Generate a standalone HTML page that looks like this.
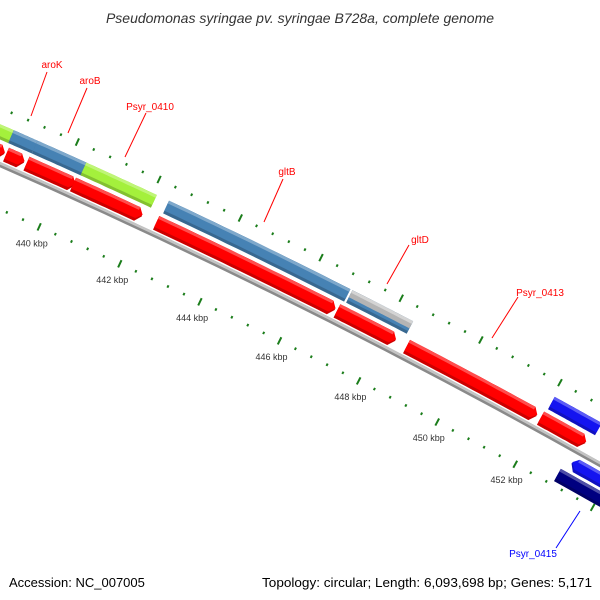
<!DOCTYPE html>
<html><head><meta charset="utf-8"><style>
body{margin:0;background:#fff;overflow:hidden}
svg{display:block;font-family:"Liberation Sans","DejaVu Sans",sans-serif;overflow:hidden}
</style></head><body>
<svg id="map" width="600" height="600" viewBox="0 0 600 600" xmlns="http://www.w3.org/2000/svg">
<rect width="600" height="600" fill="#fff"/>
<text x="300" y="23" text-anchor="middle" font-size="14" font-style="italic" fill="#333">Pseudomonas syringae pv. syringae B728a, complete genome</text>
<g id="ticks"></g><g id="backbone"></g><g id="features"></g><g id="labels"></g>
<text x="9" y="587" font-size="13" fill="#000">Accession: NC_007005</text>
<text x="262" y="587" textLength="330" lengthAdjust="spacingAndGlyphs" font-size="13" fill="#000">Topology: circular; Length: 6,093,698 bp; Genes: 5,171</text>
</svg>
<script>
// data (kbp)
const featStart = [436.0, 438.66, 439.16, 440.3, 442.35, 446.85, 448.6, 452.0, 436.0, 438.6, 439.18, 440.37, 442.4, 446.95, 452.05, 453.1, 452.95];
const featEnd   = [438.62,439.1, 440.35, 442.0, 446.8, 448.32, 451.9, 453.15, 438.6, 439.18,440.4, 442.1, 446.9, 448.47, 453.25, 457.0, 457.0];
const featRow   = ['gene','gene','gene','gene','gene','gene','gene','gene','cog','cog','cog','cog','cog','cog2','bcog','rgene','rcog'];
const featColor = ['#f00','#f00','#f00','#f00','#f00','#f00','#f00','#f00','#a4f03c','#4682b4','#4682b4','#a4f03c','#4682b4','#4682b4','#1414f0','#1414f0','#000080'];
const featDir   = [1,1,1,1,1,1,1,1,0,0,0,0,0,0,0,-1,0];
const tickLabels = ['440 kbp','442 kbp','444 kbp','446 kbp','448 kbp','450 kbp','452 kbp'];
const tickLabelKbp = [440,442,444,446,448,450,452];
const geneLabels = ['aroK','aroB','Psyr_0410','gltB','gltD','Psyr_0413','Psyr_0415'];
const geneLabelColor = ['#f00','#f00','#f00','#f00','#f00','#f00','#00f'];

// geometry
const CX=-2718, CY=6353, R=6700, TH0=-63.5*Math.PI/180, DTH=0.0066;
function pt(k,dr){const t=TH0+(k-446)*DTH;return [CX+(R+dr)*Math.cos(t),CY+(R+dr)*Math.sin(t)];}
const rows={gene:[63,78],cog:[82,96],cog2:[82,96],bcog:[82,96],rgene:[39,53],rcog:[22,36]};
const NS='http://www.w3.org/2000/svg';
function mk(tag,attrs,parent){const e=document.createElementNS(NS,tag);for(const a in attrs)e.setAttribute(a,attrs[a]);parent.appendChild(e);return e;}
function band(k0,k1,r0,r1,dir){
  const n=20,pts=[],tip=0.12;let a=k0,b=k1;
  if(dir===1)b=k1-tip; if(dir===-1)a=k0+tip;
  for(let i=0;i<=n;i++)pts.push(pt(a+(b-a)*i/n,r1));
  if(dir===1)pts.push(pt(k1,(r0+r1)/2));
  for(let i=n;i>=0;i--)pts.push(pt(a+(b-a)*i/n,r0));
  if(dir===-1)pts.push(pt(k0,(r0+r1)/2));
  return 'M'+pts.map(p=>p[0].toFixed(1)+','+p[1].toFixed(1)).join('L')+'Z';
}
function shade(c,f){const h=c.replace('#','');let r,g,b;if(h.length===3){r=parseInt(h[0]+h[0],16);g=parseInt(h[1]+h[1],16);b=parseInt(h[2]+h[2],16);}else{r=parseInt(h.slice(0,2),16);g=parseInt(h.slice(2,4),16);b=parseInt(h.slice(4,6),16);}
  const m=v=>Math.max(0,Math.min(255,Math.round(f>0?v+(255-v)*f:v*(1+f))));return `rgb(${m(r)},${m(g)},${m(b)})`;}

// ticks
const tg=document.getElementById('ticks');
for(let i=0;i<=55;i++){const k=436+i*0.4;const major=Math.abs((k/2)-Math.round(k/2))<0.01;
  [18,111].forEach(base=>{const l=major?4:1.3;const p0=pt(k,base-l),p1=pt(k,base+l);
    const e=mk('line',{x1:p0[0],y1:p0[1],x2:p1[0],y2:p1[1],stroke:'#1b7d1b','stroke-width':2},tg);
    
    });}
tickLabels.forEach((t,i)=>{const p=pt(tickLabelKbp[i],0);
  const e=mk('text',{x:p[0],y:p[1]+3,'text-anchor':'middle','font-size':'9',fill:'#333'},tg);e.textContent=t;
  
  });

// backbone
const bg=document.getElementById('backbone');
let e=mk('path',{d:band(430,458,56.5,61.5,0),fill:'#8a8a8a'},bg);


mk('path',{d:band(430,458,59,61.5,0),fill:'#c4c4c4'},bg);

// features
const fg=document.getElementById('features');
featStart.forEach((s,i)=>{const [r0,r1]=rows[featRow[i]];const c=featColor[i];
  const g=mk('g',{},fg);
  
  
  mk('path',{d:band(s,featEnd[i],r0,r1,featDir[i]),fill:shade(c,-0.2)},g);
  mk('path',{d:band(s,featEnd[i],r0+3,r1,featDir[i]),fill:c},g);
  mk('path',{d:band(s+(featDir[i]===-1?0.12:0),featEnd[i]-(featDir[i]===1?0.12:0),r1-3,r1,0),fill:shade(c,0.3)},g);
  if(featRow[i]==='cog2'){mk('path',{d:band(s,featEnd[i],r0+6,r1,0),fill:'#b4b4b4'},g);mk('path',{d:band(s,featEnd[i],r1-3,r1,0),fill:'#d4d4d4'},g);}
});

// gene labels
const labelPos=[[52,68],[90,84],[150,110],[287,175],[420,243],[540,296],[533,557]];
const lineSeg=[[31,116,47,72],[68,133,87,88],[125,157,146,113],[264,222,283,179],[387,284,409,245],[492,338,518,297],[556,548,580,511]];
const lg=document.getElementById('labels');
geneLabels.forEach((t,i)=>{const s=lineSeg[i];
  let l=mk('line',{x1:s[0],y1:s[1],x2:s[2],y2:s[3],stroke:geneLabelColor[i],'stroke-width':1},lg);
  
  
  const x=mk('text',{x:labelPos[i][0],y:labelPos[i][1],'text-anchor':'middle','font-size':'10',fill:geneLabelColor[i]},lg);
  x.textContent=t;
  
  });
</script>
</body></html>
